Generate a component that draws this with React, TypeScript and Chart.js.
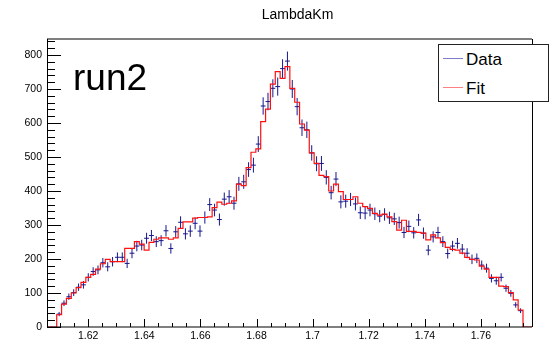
import React, { useEffect, useRef } from 'react';
import { Chart, registerables } from 'chart.js';

Chart.register(...registerables);

// ---- data ----
const binLow = 1.60876;
const binHigh = 1.77499;
const dataCounts = [
  38, 70, 89, 101, 117, 124, 146, 163, 168, 189,
  177, 192, 205, 205, 187, 217, 238, 241, 261, 269,
  251, 254, 283, 231, 280, 308, 274, 282, 305, 282,
  322, 360, 344, 316, 376, 383, 364, 421, 427, 463,
  476, 538, 650, 663, 702, 707, 760, 782, 700, 648,
  586, 580, 512, 480, 481, 440, 395, 435, 368, 370,
  375, 362, 336, 335, 344, 333, 326, 331, 321, 318,
  307, 278, 296, 277, 315, 276, 226, 265, 278, 251,
  216, 238, 246, 229, 217, 199, 202, 182, 173, 143,
  136, 146, 114, 99, 65, 48,
];
const fitCounts = [
  36, 67, 84, 100, 116, 131, 146, 155, 170, 186,
  199, 192, 192, 192, 231, 231, 251, 244, 226, 249,
  258, 262, 262, 258, 262, 290, 309, 309, 320, 322,
  322, 324, 351, 367, 361, 364, 371, 420, 416, 469,
  514, 524, 604, 641, 714, 751, 731, 766, 702, 661,
  597, 579, 512, 481, 446, 442, 400, 420, 398, 375,
  375, 383, 364, 354, 349, 334, 329, 332, 324, 310,
  285, 314, 281, 281, 278, 276, 256, 271, 262, 248,
  234, 228, 226, 217, 205, 199, 197, 179, 170, 146,
  146, 120, 119, 101, 80, 50,
];
const xAxisMin = 1.6053;
const xAxisMax = 1.7782;
const yAxisMin = 0;
const yAxisMax = 847;
const xTickValues = [1.62, 1.64, 1.66, 1.68, 1.7, 1.72, 1.74, 1.76];
const xTickLabels = ['1.62', '1.64', '1.66', '1.68', '1.7', '1.72', '1.74', '1.76'];
const yTickValues = [0, 100, 200, 300, 400, 500, 600, 700, 800];
const yTickLabels = ['0', '100', '200', '300', '400', '500', '600', '700', '800'];
const xMinorStep = 0.005;
const yMinorStep = 20;
const titleText = 'LambdaKm';
const labelText = 'run2';
const legendLabels = ['Data', 'Fit'];

const FONT = '"Liberation Sans", Arial, Helvetica, sans-serif';
const DATA_COLOR = '#16168c';
const FIT_COLOR = '#ff1010';

const framePlugin = {
  id: 'rootFrame',
  afterDatasetsDraw(chart: any) {
    const { ctx, chartArea: a, scales } = chart;
    const xs = scales.x;
    const ys = scales.y;
    ctx.save();
    ctx.strokeStyle = '#000';
    ctx.lineWidth = 1;
    ctx.beginPath();
    // y ticks (inside, from left axis)
    const nY = Math.floor((yAxisMax - yAxisMin) / yMinorStep + 1e-6);
    for (let k = 0; k <= nY; k++) {
      const v = yAxisMin + k * yMinorStep;
      const py = Math.round(ys.getPixelForValue(v)) + 0.5;
      const major = Math.abs(v % 100) < 1e-6;
      ctx.moveTo(a.left, py);
      ctx.lineTo(a.left + (major ? 14 : 8), py);
    }
    // x ticks (inside, from bottom axis)
    const start = Math.ceil(xAxisMin / xMinorStep - 1e-6);
    const end = Math.floor(xAxisMax / xMinorStep + 1e-6);
    for (let k = start; k <= end; k++) {
      const v = k * xMinorStep;
      const px = Math.round(xs.getPixelForValue(v)) + 0.5;
      const major = k % 4 === 0;
      ctx.moveTo(px, a.bottom);
      ctx.lineTo(px, a.bottom - (major ? 8 : 4));
    }
    ctx.stroke();
    // frame
    ctx.beginPath();
    ctx.moveTo(a.left + 0.5, a.top);
    ctx.lineTo(a.left + 0.5, a.bottom);
    ctx.moveTo(a.left, a.bottom);
    ctx.lineTo(a.right, a.bottom);
    ctx.moveTo(a.right + 0.5, a.bottom);
    ctx.lineTo(a.right + 0.5, a.top);
    ctx.moveTo(a.right, a.top);
    ctx.lineTo(a.left, a.top);
    ctx.stroke();
    ctx.restore();
  },
};

export default function App() {
  const canvasRef = useRef<HTMLCanvasElement | null>(null);

  useEffect(() => {
    const canvas = canvasRef.current;
    if (!canvas) return;
    const n = dataCounts.length;
    const binW = (binHigh - binLow) / n;

    const dataSegments: { x: number; y: number | null }[] = [];
    dataCounts.forEach((c, i) => {
      const cx = binLow + (i + 0.5) * binW;
      const e = Math.sqrt(c);
      dataSegments.push({ x: cx, y: c - e }, { x: cx, y: c + e }, { x: cx, y: null });
      dataSegments.push({ x: cx - binW / 2, y: c }, { x: cx + binW / 2, y: c }, { x: cx + binW / 2, y: null });
    });

    const fitSteps: { x: number; y: number }[] = [{ x: xAxisMin, y: 0 }];
    fitCounts.forEach((c, i) => fitSteps.push({ x: binLow + i * binW, y: c }));
    fitSteps.push({ x: binHigh, y: 0 });
    fitSteps.push({ x: xAxisMax, y: 0 });

    const chart = new Chart(canvas, {
      type: 'line',
      data: {
        datasets: [
          {
            label: legendLabels[1],
            data: fitSteps,
            borderColor: FIT_COLOR,
            borderWidth: 1.2,
            pointRadius: 0,
            stepped: 'before',
            fill: false,
            tension: 0,
          },
          {
            label: legendLabels[0],
            data: dataSegments,
            borderColor: DATA_COLOR,
            borderWidth: 1,
            pointRadius: 0,
            spanGaps: false,
            fill: false,
            tension: 0,
          },
        ],
      },
      options: {
        animation: false,
        responsive: false,
        devicePixelRatio: 1,
        events: [],
        layout: { padding: { top: 39, right: 18, left: 0, bottom: 0 } },
        plugins: {
          legend: { display: false },
          title: { display: false },
          tooltip: { enabled: false },
        },
        scales: {
          x: {
            type: 'linear',
            min: xAxisMin,
            max: xAxisMax,
            grid: { display: false, drawTicks: false },
            border: { display: false },
            afterBuildTicks: (s: any) => {
              s.ticks = xTickValues.map((v) => ({ value: v }));
            },
            afterFit: (s: any) => {
              s.height = 16;
            },
            ticks: {
              autoSkip: false,
              maxRotation: 0,
              padding: 3,
              color: '#000',
              font: { family: FONT, size: 10.5 },
              callback: (_v: any, i: number) => xTickLabels[i],
            },
          },
          y: {
            type: 'linear',
            min: yAxisMin,
            max: yAxisMax,
            grid: { display: false, drawTicks: false },
            border: { display: false },
            afterBuildTicks: (s: any) => {
              s.ticks = yTickValues.map((v) => ({ value: v }));
            },
            afterFit: (s: any) => {
              s.width = 47;
            },
            ticks: {
              autoSkip: false,
              padding: 5,
              color: '#000',
              font: { family: FONT, size: 10.5 },
              callback: (_v: any, i: number) => yTickLabels[i],
            },
          },
        },
      },
      plugins: [framePlugin],
    });
    return () => chart.destroy();
  }, []);

  return (
    <div style={{ position: 'fixed', left: 0, top: 0, width: 550, height: 343, background: '#fff', fontFamily: FONT }}>
      <canvas ref={canvasRef} width={550} height={343} style={{ display: 'block', width: 550, height: 343 }} />
      <div style={{ position: 'absolute', left: 0, width: 595, top: 7, textAlign: 'center', fontSize: 14, lineHeight: '14px', color: '#000', whiteSpace: 'nowrap' }}>
        {titleText}
      </div>
      <div style={{ position: 'absolute', left: 73, top: 59, fontSize: 37, lineHeight: '37px', color: '#000', whiteSpace: 'nowrap' }}>
        {labelText}
      </div>
      <div style={{ position: 'absolute', left: 438, top: 44, width: 109, height: 56, border: '1px solid #222', background: '#fff' }}>
        <div style={{ position: 'absolute', left: 4, top: 13, width: 20, height: 1, background: '#7d7dcc' }} />
        <div style={{ position: 'absolute', left: 27, top: 6, fontSize: 17, lineHeight: '17px', color: '#000', whiteSpace: 'nowrap' }}>
          {legendLabels[0]}
        </div>
        <div style={{ position: 'absolute', left: 4, top: 42, width: 20, height: 1, background: '#ff8080' }} />
        <div style={{ position: 'absolute', left: 27, top: 35, fontSize: 17, lineHeight: '17px', color: '#000', whiteSpace: 'nowrap' }}>
          {legendLabels[1]}
        </div>
      </div>
    </div>
  );
}
